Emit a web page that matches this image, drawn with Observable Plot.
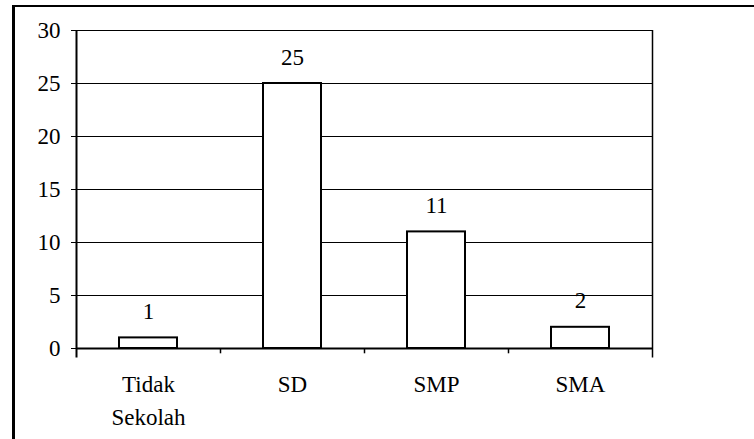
<!DOCTYPE html>
<html>
<head>
<meta charset="utf-8">
<script src="https://cdn.jsdelivr.net/npm/d3@7"></script>
<script src="https://cdn.jsdelivr.net/npm/@observablehq/plot@0.6"></script>
<style>
  html, body { margin: 0; padding: 0; background: #fff; }
  #wrap { position: relative; width: 754px; height: 439px; overflow: hidden; }
  #border { position: absolute; left: 12px; top: 5px; right: -10px; bottom: -10px;
            border-left: 3px solid #000; border-top: 2px solid #000; pointer-events: none; }
  #chart { position: absolute; left: 0; top: 0; }
  #chart text { font-family: 'Liberation Serif', 'Times New Roman', serif; }
</style>
</head>
<body>
<div id="wrap"><div id="chart"></div><div id="border"></div></div>
<script>
const categories = ["Tidak Sekolah", "SD", "SMP", "SMA"];
const categoryLabels = ["Tidak\nSekolah", "SD", "SMP", "SMA"];
const counts = [1, 25, 11, 2];
const yTicks = [0, 5, 10, 15, 20, 25, 30];

const data = categories.map((c, i) => ({cat: c, label: categoryLabels[i], value: counts[i]}));

const W = 754, H = 439, mL = 76, mR = 102, mT = 30, mB = 91;
const half = (W - mL - mR) / categories.length / 2;
const serif = "'Liberation Serif', 'Times New Roman', serif";

const chart = Plot.plot({
  width: W, height: H,
  marginLeft: mL, marginRight: mR, marginTop: mT, marginBottom: mB,
  style: {fontFamily: serif, fontSize: "22px", color: "#000", background: "transparent"},
  x: {domain: categories, paddingInner: 0.6, paddingOuter: 0.3, axis: null},
  y: {domain: [0, 30], axis: null},
  marks: [
    Plot.ruleY(yTicks.filter(d => d > 0), {stroke: "#000", strokeWidth: 1}),
    Plot.barY(data, {x: "cat", y: "value", fill: "#fff", stroke: "#000", strokeWidth: 2}),
    Plot.ruleY([0], {stroke: "#000", strokeWidth: 2}),
    Plot.ruleX(categories.slice(1), {x: d => d, dx: -half, y1: 0, y2: -0.5, stroke: "#000", strokeWidth: 1.5}),
    Plot.ruleX([categories[0]], {x: d => d, dx: -half, y1: 30, y2: -0.9, stroke: "#000", strokeWidth: 2}),
    Plot.ruleX([categories[categories.length - 1]], {x: d => d, dx: half, y1: 30, y2: -0.9, stroke: "#000", strokeWidth: 1.5}),
    Plot.axisY({ticks: yTicks, tickSize: 5, tickPadding: 11, fontSize: 23, fontFamily: serif, tickFormat: d => d, label: null}),
    Plot.text(data, {x: "cat", y: "value", text: d => String(d.value), lineAnchor: "bottom", dy: -19, fontSize: 23, fontFamily: serif}),
    Plot.text(data, {x: "cat", y: 0, text: "label", lineAnchor: "top", dy: 21, lineHeight: 1.4, fontSize: 23, fontFamily: serif})
  ]
});
document.getElementById("chart").appendChild(chart);
</script>
</body>
</html>
